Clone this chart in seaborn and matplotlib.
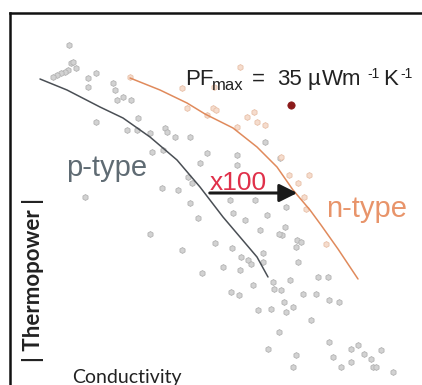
import matplotlib
matplotlib.use("Agg")
import matplotlib.pyplot as plt
import seaborn as sns
import pandas as pd

# ---- data (arbitrary units: conductivity vs |thermopower|) ----
grey_x = [59, 61, 63, 58, 55, 51, 47, 43, 66, 78, 86, 78, 103, 105, 107, 113, 121, 86, 117, 127,
          128, 155, 165, 180, 142, 153, 190, 140, 157, 197, 227, 227, 152, 168, 178, 182, 180, 188,
          140, 172, 205, 220, 223, 235, 245, 250, 257, 272, 275, 287, 288, 253, 238, 222, 192, 230,
          263, 280, 255, 270, 75, 213, 231, 241, 253, 243, 221, 229, 248, 261, 264, 271, 269, 286,
          291, 274, 276, 283, 293, 306, 308, 318, 319, 329, 301, 269, 258, 286, 283, 319, 323, 331,
          341, 341, 348, 354, 361, 371, 363, 366, 383, 276]
grey_y = [340, 322, 323, 315, 313, 312, 310, 308, 317, 307, 312, 298, 302, 295, 285, 288, 285, 263,
          255, 255, 267, 257, 248, 248, 233, 235, 222, 252, 253, 232, 230, 220, 197, 195, 208, 202,
          182, 167, 151, 135, 142, 185, 172, 165, 185, 155, 170, 150, 158, 145, 123, 132, 125, 137,
          112, 115, 103, 105, 243, 227, 188, 118, 128, 121, 123, 100, 93, 90, 75, 76, 96, 95, 151,
          138, 143, 83, 73, 78, 91, 91, 108, 108, 85, 83, 65, 53, 36, 30, 18, 43, 28, 18, 23, 36,
          40, 31, 26, 35, 18, 18, 13, 178]
pale_x = [120, 172, 177, 203, 197, 204, 206, 227, 237, 244, 247, 255, 271, 279, 288, 299, 294, 296,
          316, 230]
pale_y = [308, 297, 277, 277, 270, 298, 275, 258, 268, 273, 263, 260, 228, 210, 202, 210, 188, 176,
          141, 318]
best_x = [281]
best_y = [280]

p_curve_x = [30, 57, 90, 113, 140, 167, 190, 213, 230, 247, 258]
p_curve_y = [306, 295, 278, 267, 248, 225, 198, 168, 148, 128, 108]
n_curve_x = [120, 150, 177, 195, 223, 247, 267, 283, 300, 311, 328, 348]
n_curve_y = [307, 295, 282, 271, 257, 238, 218, 195, 175, 160, 136, 106]

sns.set_theme(style="white")
plt.rcParams["font.family"] = ["Liberation Sans", "DejaVu Sans"]

fig = plt.figure(figsize=(4.22, 3.85), dpi=100)
ax = fig.add_axes([10 / 422, 0, 412 / 422, 372 / 385])
ax.set_xlim(0, 412)
ax.set_ylim(0, 372)

sns.scatterplot(x=grey_x, y=grey_y, ax=ax, s=18, color="#d2d2d2", edgecolor="#b2b2b2",
                linewidth=0.6, marker="h", zorder=2)
sns.scatterplot(x=pale_x, y=pale_y, ax=ax, s=18, color="#f5dccd", edgecolor="#e8c0a8",
                linewidth=0.6, marker="h", zorder=2)
sns.scatterplot(x=best_x, y=best_y, ax=ax, s=28, color="#8b1a1a", edgecolor="#8b1a1a",
                linewidth=0.5, zorder=3)

pdf = pd.DataFrame({"x": p_curve_x, "y": p_curve_y})
ndf = pd.DataFrame({"x": n_curve_x, "y": n_curve_y})
sns.lineplot(data=pdf, x="x", y="y", ax=ax, sort=False, color="#4a4f55", linewidth=1.1, zorder=4)
sns.lineplot(data=ndf, x="x", y="y", ax=ax, sort=False, color="#e08a5c", linewidth=1.1, zorder=4)

ax.annotate("", xy=(290, 192), xytext=(197, 192),
            arrowprops=dict(arrowstyle="-|>,head_length=0.9,head_width=0.45", color="#1a1a1a",
                            lw=2.2), zorder=5)
ax.text(200, 202, "x100", color="#e0304a", fontsize=19, va="center", ha="left", zorder=6)
ax.text(56, 217, "p-type", color="#5f6b73", fontsize=21, va="center", ha="left")
ax.text(316, 176, "n-type", color="#e8946a", fontsize=21, va="center", ha="left")

# PF_max = 35 µWm-1K-1 as separate pieces (text, x, baseline y, size)
tc = "#222222"
for txt, x, y, fs in [("PF", 175, 300, 16), ("max", 202, 295, 12), ("=", 242, 300, 16),
                      ("35", 267, 300, 16), ("µ", 298, 300, 16), ("Wm", 312, 300, 16),
                      ("-1", 357, 307, 10), ("K", 373, 300, 16), ("-1", 390, 307, 10)]:
    ax.text(x, y, txt, color=tc, fontsize=fs, va="baseline", ha="left")

ax.text(23, 105, "| Thermopower |", rotation=90, fontsize=16, color="#222222",
        va="center", ha="center", weight="bold", family=["Lato", "DejaVu Sans"])
ax.text(62, 8, "Conductivity", fontsize=14, color="#222222", va="center", ha="left",
        family=["Lato", "DejaVu Sans"])

ax.set_xticks([])
ax.set_yticks([])
ax.set_xlabel("")
ax.set_ylabel("")
for side in ["right", "bottom"]:
    ax.spines[side].set_visible(False)
for side in ["top", "left"]:
    ax.spines[side].set_visible(True)
    ax.spines[side].set_color("#111111")
    ax.spines[side].set_linewidth(1.8)

fig.savefig("out.png", dpi=100)
